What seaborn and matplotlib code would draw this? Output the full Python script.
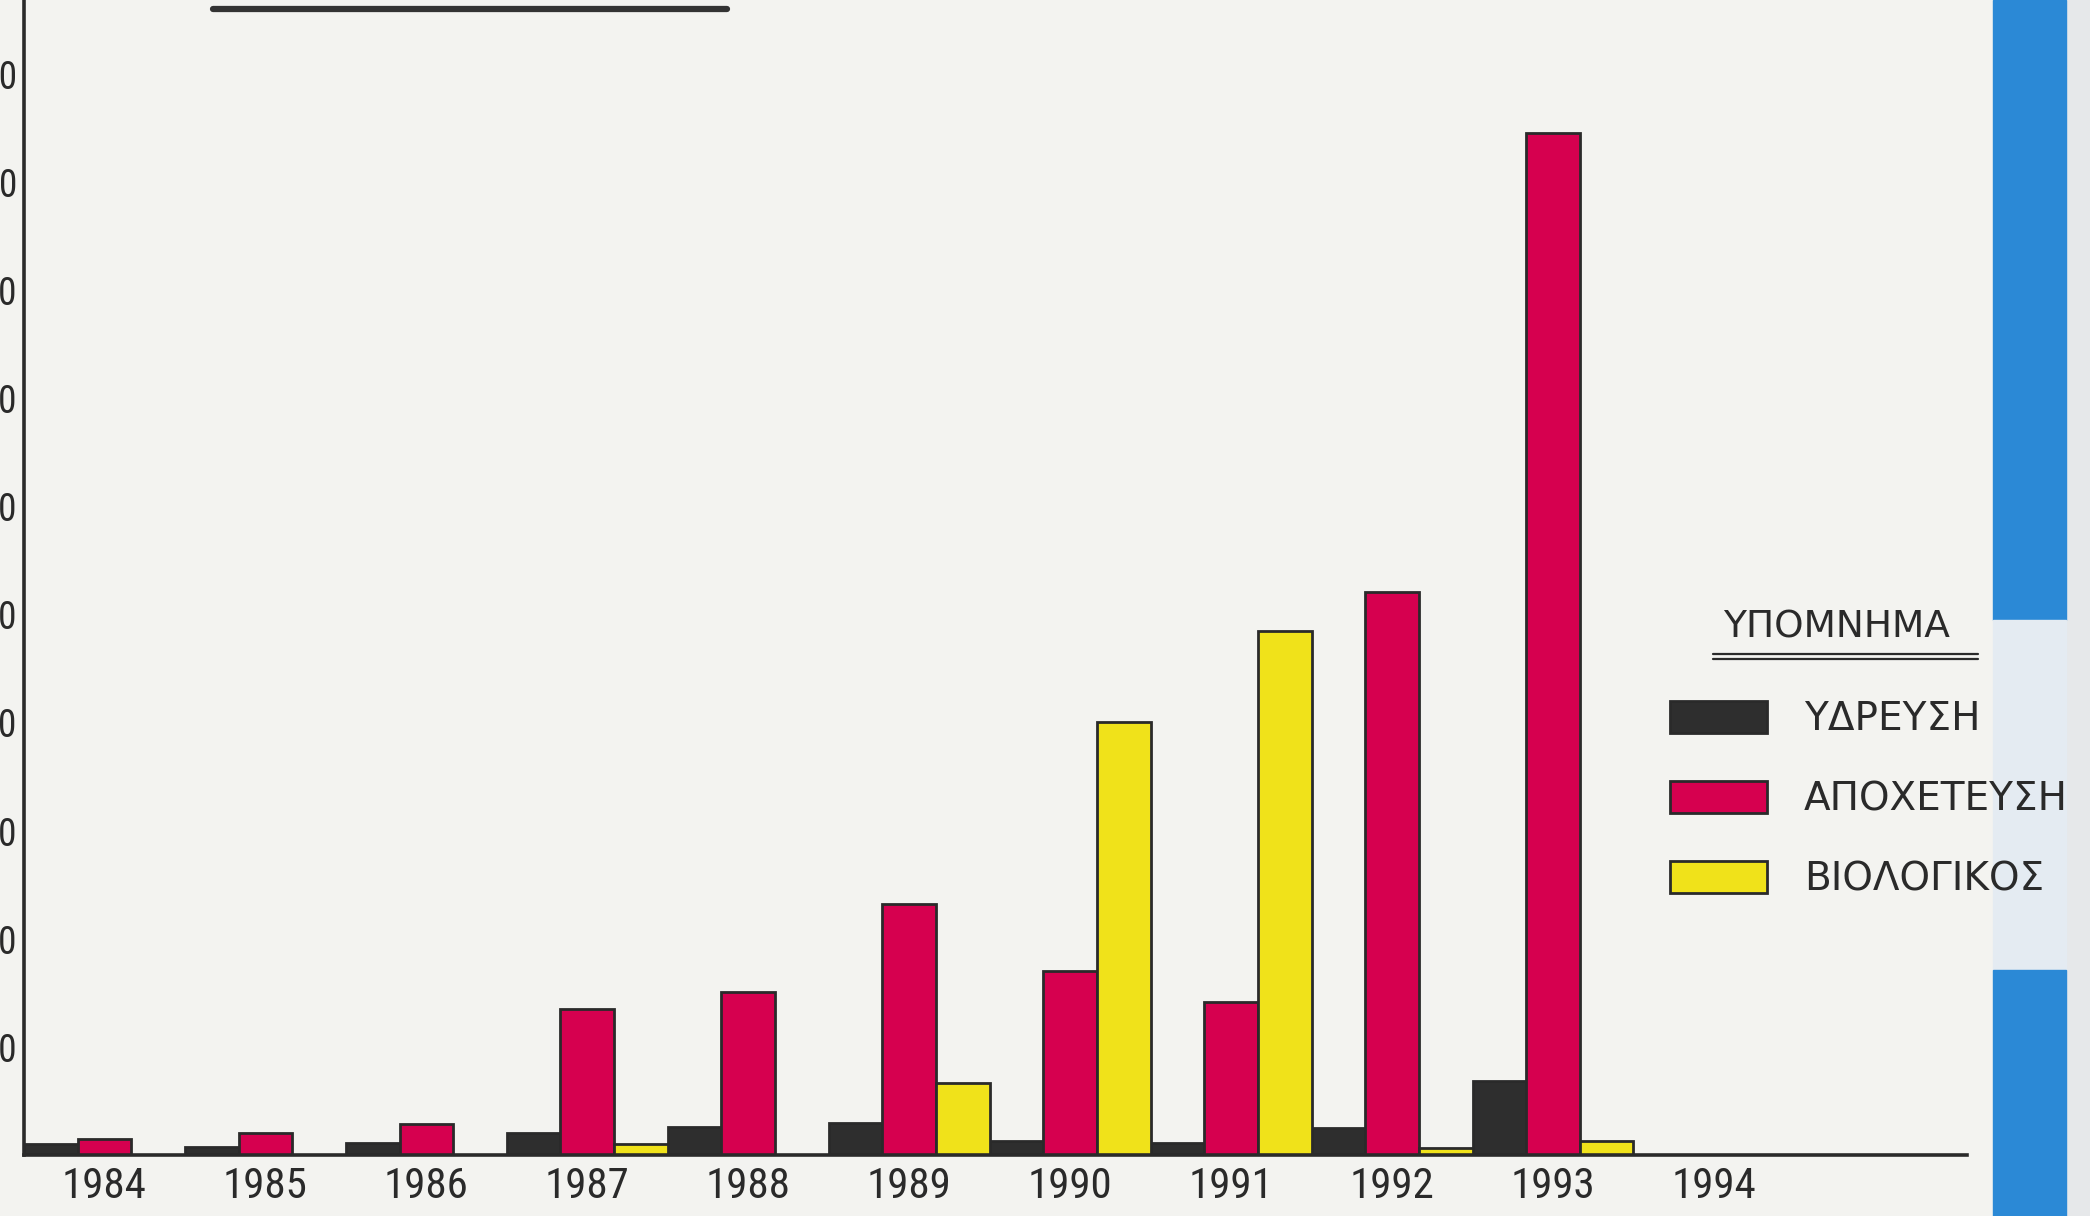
import pandas as pd
import matplotlib.pyplot as plt
import seaborn as sns
from matplotlib.lines import Line2D
from matplotlib.patches import Rectangle

# values (one tick = 100)
years = ["1984", "1985", "1986", "1987", "1988", "1989", "1990", "1991", "1992", "1993", "1994"]
ydreusi = [10, 8, 11, 21, 26, 30, 13, 11, 25, 69, 0]
apoxeteusi = [15, 21, 29, 135, 151, 232, 170, 142, 521, 946, 0]
viologikos = [0, 0, 0, 10, 0, 67, 401, 485, 7, 13, 0]
series_names = ["ΥΔΡΕΥΣΗ", "ΑΠΟΧΕΤΕΥΣΗ", "ΒΙΟΛΟΓΙΚΟΣ"]
series_colors = ["#2e2e2e", "#d6004f", "#f0e21a"]
y_ticks = [100, 200, 300, 400, 500, 600, 700, 800, 900, 1000]
legend_title = "ΥΠΟΜΝΗΜΑ"

df = pd.DataFrame({
    "year": years * 3,
    "value": ydreusi + apoxeteusi + viologikos,
    "type": [series_names[0]] * len(years) + [series_names[1]] * len(years) + [series_names[2]] * len(years),
})

sns.set_style("white")
plt.rcParams["font.family"] = ["DejaVu Sans"]
paper = "#f3f3f0"
ink = "#2a2a2a"
narrow = ["Roboto Condensed", "Liberation Sans Narrow", "DejaVu Sans"]

fig = plt.figure(figsize=(20.9, 12.16), dpi=100, facecolor=paper)

# blue strip from the scan at the right edge (kept behind everything)
strip = [
    ((2066 / 2090, 0), 24 / 2090, 1, "#e6e8ea"),
    ((1993 / 2090, 1 - 620 / 1216), 73 / 2090, 620 / 1216, "#2b89d6"),
    ((1993 / 2090, 1 - 970 / 1216), 73 / 2090, 350 / 1216, "#e4ebf2"),
    ((1993 / 2090, 0), 73 / 2090, 246 / 1216, "#2b89d6"),
]
for xy, w, h, c in strip:
    fig.patches.append(Rectangle(xy, w, h, transform=fig.transFigure, color=c, zorder=-5))

ax = fig.add_axes([24 / 2090, 0.05, 0.9295, 0.95])
ax.set_facecolor("none")
ax.set_zorder(2)

sns.barplot(data=df, x="year", y="value", hue="type", hue_order=series_names,
            palette=series_colors, width=1.0, dodge=True, saturation=1,
            edgecolor=ink, linewidth=2.0, ax=ax)

ax.set_xlim(-0.5, 11.57)
ax.set_ylim(0, 1069)
ax.set_xlabel("")
ax.set_ylabel("")

for side in ["top", "right"]:
    ax.spines[side].set_visible(False)
for side in ["left", "bottom"]:
    ax.spines[side].set_color(ink)
    ax.spines[side].set_linewidth(2.6)

ax.set_yticks(y_ticks)
ax.set_yticklabels([str(v) for v in y_ticks], fontsize=27, family=narrow, color=ink)
ax.tick_params(axis="y", length=0, pad=5)

ax.set_xticks(range(len(years)))
ax.set_xticklabels(years, fontsize=31, family=narrow, color=ink)
ax.set_xticks([i + 0.5 for i in range(len(years))], minor=True)
ax.tick_params(axis="x", which="major", length=0, pad=8)
ax.tick_params(axis="x", which="minor", length=9, width=2, color=ink, direction="out")

# legend
handles, labels = ax.get_legend_handles_labels()
ax.legend(handles, labels, loc="upper left", bbox_to_anchor=(1670 / 2090, 0.424),
          bbox_transform=fig.transFigure, frameon=False, fontsize=28,
          handlelength=2.5, handleheight=0.87, handletextpad=0.95,
          labelspacing=1.08, borderpad=0, borderaxespad=0, labelcolor=ink)

fig.text(1836 / 2090, 1 - 628 / 1216, legend_title, fontsize=27, color=ink,
         ha="center", va="center")
for yy in [654, 659]:
    fig.add_artist(Line2D([1713 / 2090, 1978 / 2090], [1 - yy / 1216, 1 - yy / 1216],
                          transform=fig.transFigure, color=ink, linewidth=1.6))

# thick rule at the top of the page
fig.add_artist(Line2D([213 / 2090, 727 / 2090], [1 - 9 / 1216, 1 - 9 / 1216],
                      transform=fig.transFigure, color="#333333", linewidth=4.5))

fig.savefig("out.png", dpi=100, facecolor=paper)
